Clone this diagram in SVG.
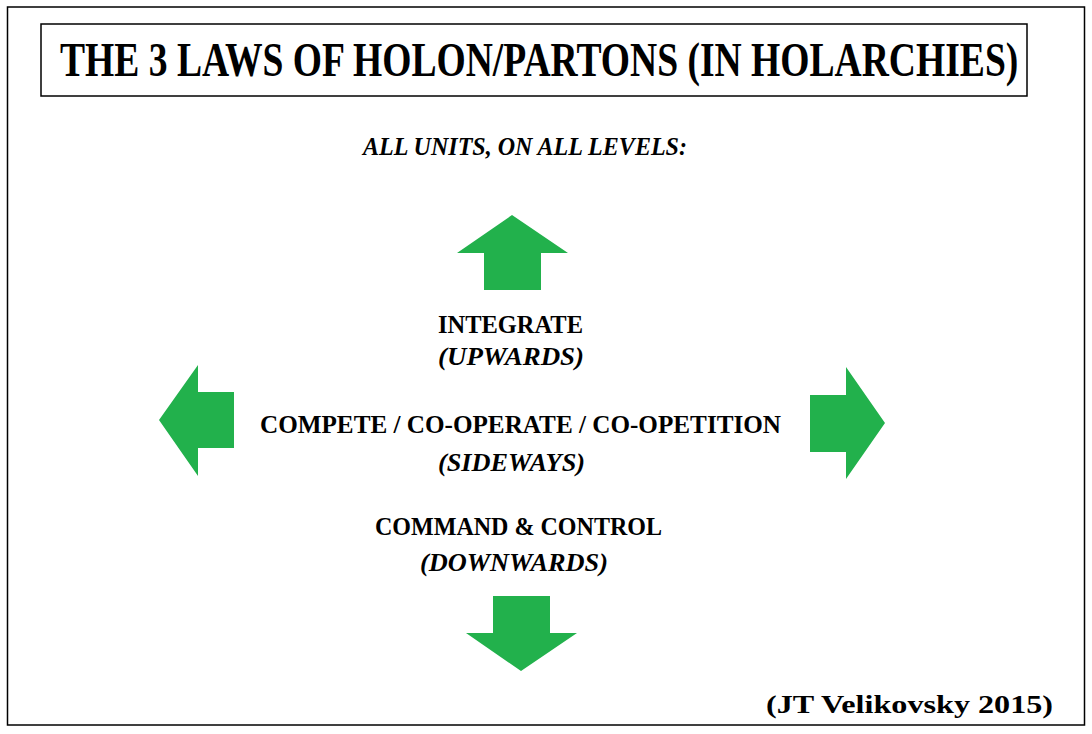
<svg xmlns="http://www.w3.org/2000/svg" width="1092" height="734" viewBox="0 0 1092 734">
  <style>
    .frame { fill: none; stroke: #000; stroke-width: 1.5; }
    .arrow { fill: #22B14C; stroke: none; }
    .t { font-family: "Liberation Serif", "DejaVu Serif", serif; font-weight: bold; fill: #000; }
    .i { font-style: italic; }
  </style>
  <rect x="0" y="0" width="1092" height="734" fill="#fff"/>
  <rect id="border" class="frame" x="7.5" y="7" width="1077" height="718"/>

  <g id="title">
    <rect class="frame" x="41" y="24" width="986" height="72"/>
    <text class="t" transform="translate(60,76) scale(0.783,1)" x="0" y="0" font-size="48">THE 3 LAWS OF HOLON/PARTONS (IN HOLARCHIES)</text>
  </g>

  <g id="subtitle">
    <text class="t i" x="363" y="155" font-size="25" textLength="324" lengthAdjust="spacingAndGlyphs">ALL UNITS, ON ALL LEVELS:</text>
  </g>

  <g id="integrate">
    <text class="t" x="438" y="333" font-size="26" textLength="145" lengthAdjust="spacingAndGlyphs">INTEGRATE</text>
    <text class="t i" x="438" y="365" font-size="26" textLength="146" lengthAdjust="spacingAndGlyphs">(UPWARDS)</text>
  </g>

  <g id="compete">
    <text class="t" x="260" y="433" font-size="26" textLength="521" lengthAdjust="spacingAndGlyphs">COMPETE / CO-OPERATE / CO-OPETITION</text>
    <text class="t i" x="438" y="471" font-size="26" textLength="147" lengthAdjust="spacingAndGlyphs">(SIDEWAYS)</text>
  </g>

  <g id="command">
    <text class="t" x="375" y="535" font-size="26" textLength="287" lengthAdjust="spacingAndGlyphs">COMMAND &amp; CONTROL</text>
    <text class="t i" x="420" y="571" font-size="26" textLength="188" lengthAdjust="spacingAndGlyphs">(DOWNWARDS)</text>
  </g>

  <g id="credit">
    <text class="t" x="766" y="713" font-size="26" textLength="287" lengthAdjust="spacingAndGlyphs">(JT Velikovsky 2015)</text>
  </g>

  <g id="arrows">
    <polygon id="arrow-up" class="arrow" points="512,215 568,253 541,253 541,290 484,290 484,253 457,253"/>
    <polygon id="arrow-left" class="arrow" points="159,420 198,365 198,392 234,392 234,448 198,448 198,476"/>
    <polygon id="arrow-right" class="arrow" points="885,423 846,367 846,395 810,395 810,452 846,452 846,479"/>
    <polygon id="arrow-down" class="arrow" points="521,671 577,633 550,633 550,596 493,596 493,633 466,633"/>
  </g>
</svg>
